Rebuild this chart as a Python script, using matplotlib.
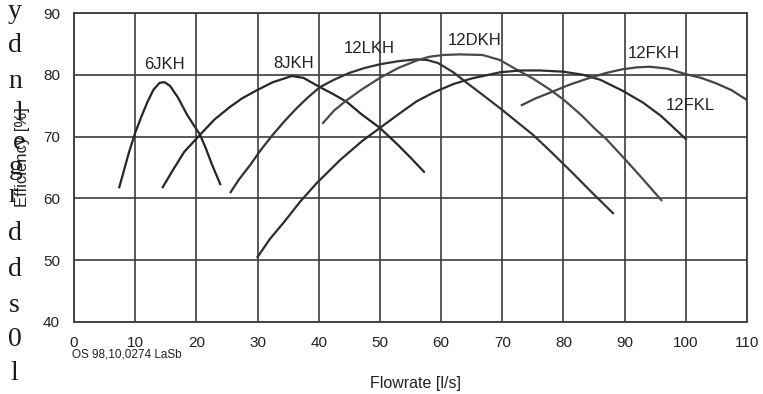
import matplotlib.pyplot as plt
import numpy as np

plt.rcParams['font.family'] = ['Liberation Sans', 'DejaVu Sans']

# efficiency curves, flowrate [l/s] vs efficiency [%]
x_6jkh = [7.4, 8.3, 9, 10, 11, 12, 13, 14, 14.8, 15.7, 17, 18.5, 20, 20.6, 21.5, 22.5, 23.9]
y_6jkh = [61.8, 65, 67.5, 70.6, 73.2, 75.6, 77.6, 78.7, 78.8, 78.2, 76.3, 73.5, 71.2, 70.3, 68.2, 65.6, 62.3]

x_8jkh = [14.5, 16, 18, 20.6, 23, 25.5, 27.5, 29.9, 32.5, 35.6, 37.5, 40.2, 42.5, 44.6, 47, 50, 53, 55, 57.2]
y_8jkh = [61.8, 64.3, 67.5, 70.3, 72.8, 74.8, 76.2, 77.5, 78.8, 79.8, 79.5, 78, 76.8, 75.6, 73.6, 71.4, 68.6, 66.6, 64.3]

x_12lkh = [25.6, 27, 28.8, 30.5, 32.5, 34.5, 36.4, 38.3, 40.2, 42.5, 45, 47.5, 50, 53, 56, 57.7,
           59.5, 62, 64.2, 67, 70, 72.5, 75, 78, 81.5, 84.5, 88.1]
y_12lkh = [61, 63.1, 65.4, 67.8, 70.3, 72.6, 74.6, 76.4, 78, 79.2, 80.3, 81.1, 81.7, 82.2, 82.5, 82.4,
           81.9, 80.4, 78.7, 76.6, 74.3, 72.3, 70.3, 67.5, 64.1, 61.1, 57.6]

x_12dkh = [40.7, 42.5, 44.6, 47, 50, 53, 56, 58, 60.3, 63, 66.8, 69.6, 72.4, 75, 77.8, 80, 83, 85,
           87, 90, 93, 96]
y_12dkh = [72.2, 74.2, 75.9, 77.6, 79.5, 81.1, 82.3, 82.9, 83.2, 83.3, 83.2, 82.4, 80.8, 79.4, 77.6,
           76, 73.4, 71.4, 69.6, 66.4, 63.1, 59.7]

x_12fkl = [30, 32, 34.2, 37, 39.7, 43.5, 47, 50, 53.3, 56, 58.7, 62, 65, 69.6, 73, 76.1, 80, 83.2,
           86, 89.7, 93, 96, 100]
y_12fkl = [50.5, 53.4, 56, 59.5, 62.5, 66.2, 69.2, 71.4, 73.8, 75.7, 77.1, 78.5, 79.4, 80.4, 80.7,
           80.7, 80.5, 80, 79.2, 77.4, 75.5, 73.3, 69.6]

x_12fkh = [73.2, 75.5, 78.3, 81, 84.3, 87, 89.7, 92, 94.1, 97, 100, 102.5, 105, 107.5, 110]
y_12fkh = [75.1, 76.2, 77.3, 78.4, 79.5, 80.3, 80.9, 81.2, 81.3, 81, 80.1, 79.5, 78.6, 77.5, 75.9]

fig = plt.figure(figsize=(7.63, 3.94), dpi=100)
ax = fig.add_axes([0.097, 0.183, 0.882, 0.784])

grid_c = '#3c3c3c'
ax.plot(x_6jkh, y_6jkh, color='#262626', lw=1.6)
ax.plot(x_8jkh, y_8jkh, color='#262626', lw=1.6)
ax.plot(x_12lkh, y_12lkh, color='#333333', lw=1.6)
ax.plot(x_12dkh, y_12dkh, color='#4a4a4a', lw=1.6)
ax.plot(x_12fkl, y_12fkl, color='#2c2c2c', lw=1.6)
ax.plot(x_12fkh, y_12fkh, color='#444444', lw=1.6)

# curve names
lab_kw = dict(fontsize=12, color='#222222', ha='center', va='center')
ax.text(14.7, 81.6, '6JKH', **lab_kw)
ax.text(35.9, 81.9, '8JKH', **lab_kw)
ax.text(48.2, 84.3, '12LKH', **lab_kw)
ax.text(65.5, 85.5, '12DKH', **lab_kw)
ax.text(94.8, 83.5, '12FKH', **lab_kw)
ax.text(100.8, 75.1, '12FKL', **lab_kw)

ax.set_xlim(0, 110)
ax.set_ylim(40, 90)
ax.set_xticks(np.arange(0, 111, 10))
ax.set_yticks(np.arange(40, 91, 10))
ax.tick_params(length=0, pad=10, labelsize=11, colors='#222222')
ax.grid(True, color=grid_c, lw=1.2)
for s in ax.spines.values():
    s.set_color(grid_c)
    s.set_linewidth(1.3)

fig.text(0.029, 0.60, 'Efficiency [%]', rotation=90, ha='center', va='center',
         fontsize=12, color='#222222')
fig.text(0.545, 0.027, 'Flowrate [l/s]', ha='center', va='center', fontsize=11.5, color='#222222')
fig.text(0.094, 0.099, 'OS 98,10,0274 LaSb', ha='left', va='center', fontsize=8.5, color='#222222')

# serif letters running down the left margin
margin_chars = ['y', 'd', 'n', 'l', 'e', 'g', 'r', 'd', 'd', 's', '0', 'l']
margin_y = [11, 45, 82, 114, 143, 168, 196, 233, 270, 305, 340, 374]
margin_x = [22, 22, 22, 23, 25, 23, 18, 22, 22, 20, 22, 18]
for ch, px, py in zip(margin_chars, margin_x, margin_y):
    fig.text(px / 763, 1 - py / 394, ch, ha='right', va='center', fontsize=20,
             family='Liberation Serif', color='#1a1a1a')

fig.savefig('out.png', dpi=100)
